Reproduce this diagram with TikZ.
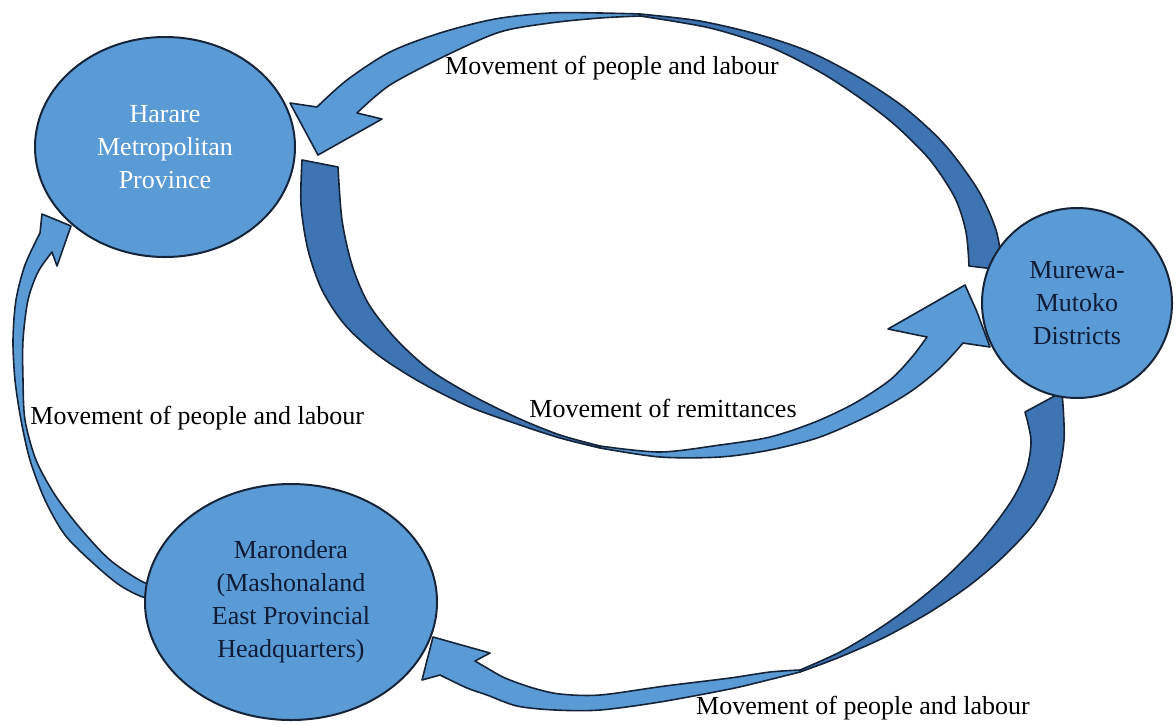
\documentclass[tikz,border=0pt]{standalone}
\usepackage{fontspec}
\setmainfont{Liberation Serif}
\usetikzlibrary{shapes.geometric}
\definecolor{zimBlue}{RGB}{91,155,213}
\definecolor{zimDeep}{RGB}{62,116,178}
\definecolor{zimEdge}{RGB}{22,36,58}
\definecolor{zimInk}{RGB}{14,28,56}

\tikzset{
  place/.style={ellipse, draw=zimEdge, line width=1pt, fill=zimBlue, inner sep=0pt,
    align=center, text=zimInk, font=\fontsize{13}{16.5}\selectfont},
  flowlabel/.style={inner sep=0pt, font=\fontsize{13}{16}\selectfont},
  ribbonfront/.style={fill=zimBlue, draw=zimEdge, line width=0.8pt, line join=round},
  ribbonback/.style={fill=zimDeep, draw=zimEdge, line width=0.8pt, line join=round}
}

\begin{document}
\begin{tikzpicture}[x=0.5pt, y=-0.5pt]
  \useasboundingbox (0,0) rectangle (1176,724);

  % Murewa -> Harare (people and labour, over the top)
  \draw[ribbonback] plot[smooth] coordinates {(640,14) (700,21) (760,35) (810,52) (860,78) (905,108) (945,145) (978,190) (996,230) (1003,270)}
    -- plot[smooth] coordinates {(969,266) (966,232) (955,198) (930,160) (895,125) (860,98) (820,72) (770,47) (710,28) (640,16)} -- cycle;
  \draw[ribbonfront] plot[smooth] coordinates {(640,14) (600,13) (550,13) (495,19) (440,33) (390,52) (347,80) (317,107)}
    -- (290,103) -- (318,155) -- (382,119)
    -- plot[smooth] coordinates {(357,113) (390,85) (447,55) (500,32) (550,23) (600,18) (640,16)} -- cycle;

  % Harare -> Murewa (remittances, underneath)
  \draw[ribbonback] plot[smooth] coordinates {(302,160) (301,205) (308,250) (322,290) (345,325) (378,355) (420,382) (470,407) (520,425) (560,438) (600,448)}
    -- plot[smooth] coordinates {(600,446) (560,435) (520,419) (475,397) (430,370) (395,338) (368,303) (352,265) (342,220) (338,167)} -- cycle;
  \draw[ribbonfront] plot[smooth] coordinates {(600,448) (660,457) (720,457) (770,450) (820,437) (870,415) (910,392) (940,368) (963,343)}
    -- (990,347) -- (977,312) -- (965,285) -- (888,329)
    -- plot[smooth] coordinates {(927,337) (912,357) (890,380) (855,403) (815,422) (770,437) (720,445) (660,452) (600,446)} -- cycle;

  % Marondera -> Harare (left side)
  \draw[ribbonfront] plot[smooth] coordinates {(160,601) (140,596) (118,584) (93,563) (65,535) (45,500) (30,460) (21,420) (15,380) (13,340) (16,300) (25,265) (40,233)}
    -- (42,214) -- (71,226) -- (57,266)
    -- plot[smooth] coordinates {(52,252) (38,272) (28,300) (23,340) (23,380) (25,420) (36,460) (55,495) (80,528) (110,560) (143,582) (160,585)} -- cycle;

  % Murewa -> Marondera (bottom)
  \draw[ribbonback] plot[smooth] coordinates {(1062,392) (1064,440) (1055,485) (1035,522) (1005,555) (970,585) (930,612) (885,637) (840,657) (800,672)}
    -- plot[smooth] coordinates {(800,670) (840,652) (880,628) (915,603) (945,578) (975,548) (998,520) (1015,495) (1027,468) (1031,440) (1025,412)} -- cycle;
  \draw[ribbonfront] plot[smooth] coordinates {(800,672) (760,682) (730,689) (660,702) (600,710) (555,710) (517,706) (487,695) (467,688) (440,675)}
    -- (422,680) -- (433,637) -- (490,653)
    -- plot[smooth] coordinates {(475,661) (487,668) (505,678) (533,688) (560,694) (600,695) (665,686) (730,678) (770,672) (800,670)} -- cycle;

  % Places
  \node[place, minimum width=130pt, minimum height=110pt, text=white] (harare) at (165,147)
    {Harare\\Metropolitan\\Province};
  \node[place, minimum width=95pt, minimum height=95pt] (murewa) at (1077,303)
    {Murewa-\\Mutoko\\Districts};
  \node[place, minimum width=146pt, minimum height=118pt] (marondera) at (291,602)
    {Marondera\\(Mashonaland\\East Provincial\\Headquarters)};

  % Flow labels
  \node[flowlabel] (peopleTop) at (612,68) {Movement of people and labour};
  \node[flowlabel] (remit) at (663,408) {Movement of remittances};
  \node[flowlabel, anchor=west] (peopleLeft) at (30,418) {Movement of people and labour};
  \node[flowlabel] (peopleBottom) at (863,708) {Movement of people and labour};
\end{tikzpicture}
\end{document}
